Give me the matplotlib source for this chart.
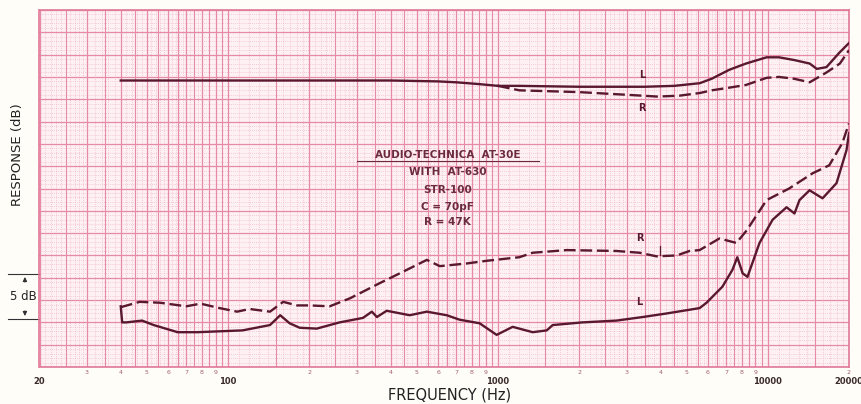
import numpy as np
import matplotlib.pyplot as plt
from matplotlib.transforms import blended_transform_factory

# upper pair (flat region is common to both channels)
upper_common_f = [40, 60, 100, 200, 400, 600, 700, 850, 1000]
upper_common_db = [32.1, 32.1, 32.1, 32.1, 32.1, 32.0, 31.9, 31.7, 31.5]

upper_l_f = [1000, 1200, 2000, 3500, 4500, 5600, 6200, 7200, 8300, 9900,
             11000, 12500, 14300, 15200, 16500, 18400, 20000]
upper_l_db = [31.5, 31.5, 31.4, 31.4, 31.5, 31.8, 32.3, 33.3, 34.0, 34.7,
              34.7, 34.4, 34.0, 33.4, 33.6, 35.2, 36.3]

upper_r_f = [1000, 1200, 2000, 3000, 3900, 4700, 5600, 6200, 7200, 8300,
             9900, 11000, 12500, 14300, 16500, 18500, 20000]
upper_r_db = [31.5, 31.0, 30.8, 30.5, 30.3, 30.4, 30.7, 31.0, 31.3, 31.6,
              32.4, 32.5, 32.3, 31.9, 33.0, 34.0, 35.5]

# lower pair (crosstalk)
lower_r_f = [40, 47, 56, 70, 79, 93, 108, 120, 143, 160, 180, 200, 238, 283,
             365, 433, 545, 609, 766, 908, 1200, 1345, 1800, 2750, 3350, 3870,
             4600, 5130, 5590, 6620, 7650, 8350, 9900, 12000, 14650, 16900,
             18900, 20000]
lower_r_db = [6.7, 7.3, 7.2, 6.8, 7.1, 6.6, 6.2, 6.5, 6.2, 7.3, 6.9, 6.9, 6.8,
              7.7, 9.4, 10.5, 12.0, 11.3, 11.6, 11.9, 12.3, 12.8, 13.1, 13.0,
              12.8, 12.4, 12.5, 13.0, 13.1, 14.4, 13.9, 15.3, 18.7, 20.0, 21.7,
              22.6, 25.1, 27.3]

lower_l_f = [40, 40.5, 42, 48, 53, 65, 77, 93, 113, 143, 156, 169, 184, 213,
             259, 316, 341, 356, 387, 471, 545, 646, 721, 855, 989, 1134, 1345,
             1516, 1596, 2060, 2750, 3440, 4220, 5590, 5930, 6790, 7400, 7710,
             8070, 8410, 9320, 10420, 11740, 12560, 13110, 14280, 15960, 17980,
             19580, 20000]
lower_l_db = [6.8, 5.0, 5.0, 5.2, 4.7, 3.9, 3.9, 4.0, 4.1, 4.7, 5.8, 4.9, 4.4,
              4.3, 5.0, 5.5, 6.2, 5.6, 6.3, 5.8, 6.2, 5.8, 5.3, 4.9, 3.6, 4.5,
              3.9, 4.1, 4.7, 5.0, 5.2, 5.6, 6.0, 6.6, 7.2, 9.0, 10.9, 12.3, 10.5,
              10.1, 13.9, 16.5, 17.9, 17.2, 18.7, 19.8, 18.9, 20.6, 24.3, 26.2]

note_lines = ["AUDIO-TECHNICA  AT-30E", "WITH  AT-630", "STR-100",
              "C = 70pF", "R = 47K"]

major_labels = [20, 100, 1000, 10000, 20000]

ink = '#5a1830'
pink = '#e68aa8'
pink_light = '#f3bccc'

fig = plt.figure(figsize=(8.62, 4.04), dpi=100, facecolor='#fffdf8')
ax = fig.add_axes([39.5 / 862, 37 / 404, 809.5 / 862, 357 / 404])
ax.set_facecolor('#fdf1f3')
ax.set_xscale('log')
ax.set_xlim(20, 20000)
ax.set_ylim(0, 40)

# chart paper grid
for d in [10, 100, 1000, 10000]:
    for k in range(1, 10):
        lo, hi = k * d, (k + 1) * d
        if lo < 20 or lo >= 20000:
            continue
        width = 270 * np.log10(hi / lo)
        n = 2
        for cand in [10, 5, 4]:
            if width / cand >= 3.6:
                n = cand
                break
        for j in range(1, n):
            f = lo + (hi - lo) * j / n
            if n % 2 == 0 and j == n // 2:
                continue
            ax.axvline(f, color=pink_light, lw=0.6, ls=(0, (1, 1.5)), zorder=1)
        ax.axvline(lo, color=pink, lw=0.9, zorder=2)
        ax.axvline(lo + d / 2, color=pink, lw=0.8, zorder=2)
for v in np.arange(0, 40.01, 0.5):
    if abs(v / 2.5 - round(v / 2.5)) < 1e-6:
        ax.axhline(v, color=pink, lw=0.9, zorder=2)
    else:
        ax.axhline(v, color=pink_light, lw=0.6, ls=(0, (1, 1.5)), zorder=1)

for s in ax.spines.values():
    s.set_color('#e07898')
    s.set_linewidth(1.2)
ax.set_xticks([])
ax.set_yticks([])
ax.minorticks_off()

# curves
ax.plot(upper_common_f, upper_common_db, color=ink, lw=1.7, zorder=5)
ax.plot(upper_l_f, upper_l_db, color=ink, lw=1.7, zorder=5)
ax.plot(upper_r_f, upper_r_db, color=ink, lw=1.7, ls=(0, (5, 2)), zorder=5)
ax.plot(lower_r_f, lower_r_db, color=ink, lw=1.7, ls=(0, (5, 2)), zorder=5)
ax.plot(lower_l_f, lower_l_db, color=ink, lw=1.7, zorder=5)

lab = dict(color=ink, fontsize=7, fontweight='bold', ha='center', va='center',
           zorder=6)
ax.text(3440, 32.7, 'L', **lab)
ax.text(3420, 29.0, 'R', **lab)
ax.text(3350, 14.4, 'R', **lab)
ax.text(3350, 7.3, 'L', **lab)
ax.plot([3970, 3970], [12.5, 13.6], color=ink, lw=0.9, zorder=5)

# test conditions note
xt = blended_transform_factory(ax.transAxes, ax.transData)
note_y = [23.7, 21.8, 19.8, 17.9, 16.2]
for txt, yy in zip(note_lines, note_y):
    ax.text(0.504, yy, txt, transform=xt, color='#6b2a40', fontsize=7.5,
            fontweight='bold', ha='center', va='center', zorder=6)
ax.plot([0.392, 0.617], [23.1, 23.1], transform=xt, color='#6b2a40', lw=0.8,
        zorder=6)

# x labels
tx = ax.get_xaxis_transform()
for f in major_labels:
    ax.text(f, -0.04, str(f), transform=tx, ha='center', va='center',
            fontsize=6, fontweight='bold', color='#3a2a2a')
for d in [10, 100, 1000]:
    for k in range(2, 10):
        f = k * d
        if f <= 20:
            continue
        ax.text(f, -0.016, str(k), transform=tx, ha='center', va='center',
                fontsize=4.5, color='#a06070')
ax.text(20000, -0.016, '2', transform=tx, ha='center', va='center',
        fontsize=4.5, color='#a06070')

ax.text(0.507, -0.078, 'FREQUENCY (Hz)', transform=ax.transAxes, ha='center',
        va='center', fontsize=10.5, color='#222222')
ax.text(-0.027, 0.594, 'RESPONSE (dB)', transform=ax.transAxes, ha='center',
        va='center', rotation=90, fontsize=9.5, color='#222222')

# 5 dB scale marker
for yy in [5.4, 10.4]:
    ax.plot([-0.039, 0], [yy, yy], transform=xt, color='#333333', lw=0.8,
            clip_on=False)
ax.annotate('', xy=(-0.018, 10.4), xytext=(-0.018, 9.2), xycoords=xt,
            textcoords=xt, arrowprops=dict(arrowstyle='-|>', color='#333333',
                                           lw=0.8, mutation_scale=6))
ax.annotate('', xy=(-0.018, 5.4), xytext=(-0.018, 6.6), xycoords=xt,
            textcoords=xt, arrowprops=dict(arrowstyle='-|>', color='#333333',
                                           lw=0.8, mutation_scale=6))
ax.text(-0.02, 7.9, '5 dB', transform=xt, ha='center', va='center',
        fontsize=8.5, color='#222222')

fig.savefig('out.png', dpi=100, facecolor=fig.get_facecolor())
